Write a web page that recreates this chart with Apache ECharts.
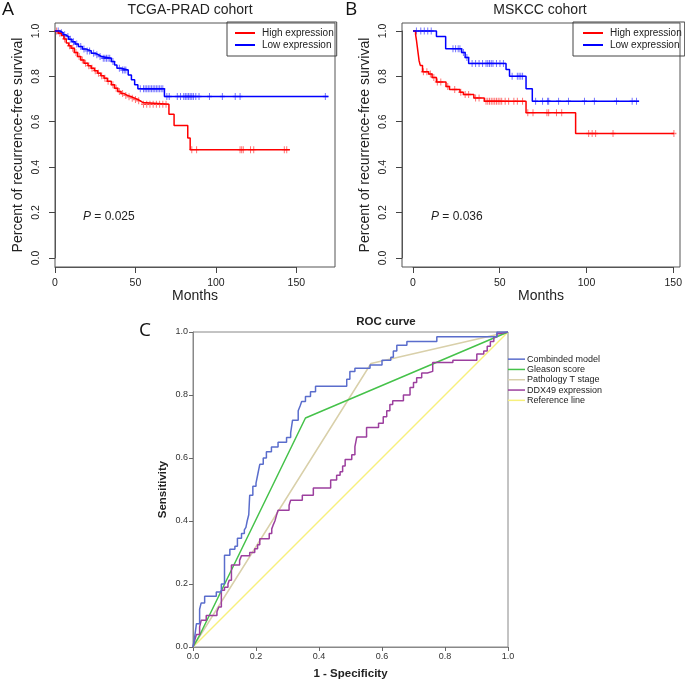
<!DOCTYPE html>
<html>
<head>
<meta charset="utf-8">
<script src="https://cdn.jsdelivr.net/npm/echarts@6/dist/echarts.min.js"></script>
<style>
  html, body { margin: 0; padding: 0; background: #fff; }
  #main { width: 685px; height: 682px; }
</style>
</head>
<body>
<div id="main"></div>
<script>
// ---- panel A : TCGA-PRAD, [months, survival] at each drop ----
const aHighSteps = [[2,0.99],[4,0.98],[5.5,0.965],[7,0.947],[8.5,0.935],[10,0.924],[12,0.905],[14,0.887],[16,0.872],
  [18,0.858],[20.5,0.847],[22.5,0.836],[24.5,0.825],[26.5,0.814],[28.5,0.803],[30.5,0.792],[32.5,0.778],[35,0.763],
  [37,0.748],[39,0.733],[41,0.724],[43,0.716],[45,0.71],[47.5,0.704],[49.5,0.698],[51.5,0.692],[53,0.685],[54.5,0.677],
  [70.8,0.633],[74,0.583],[82.5,0.528],[84,0.477]];
const aHighEnd = 146;
const aHighCensor = [1,3,6,9,11,13,15,17,19,21,23,25,27,29,31,33,36,38,40,42,44,46,48,50,52,55,57,59,61,63,65,67,69,
  85,88,115,116,117,121.5,123.5,142.5,144];
const aLowSteps = [[3,0.992],[5,0.983],[6.5,0.975],[8.5,0.963],[10.5,0.952],[12.5,0.942],[14.5,0.931],[17,0.92],
  [19.5,0.912],[22.5,0.902],[25,0.895],[27,0.887],[29,0.88],[35,0.865],[37,0.85],[38.5,0.836],[41,0.828],[45.5,0.806],
  [47.5,0.785],[49.5,0.763],[51.5,0.745],[68,0.711]];
const aLowEnd = 170;
const aLowCensor = [2,4,6,8,9.5,11.5,13.5,16,18,20,21.5,24,26,28,30,31,32,33,34,36,40,42,43,44,53,55,56,57,58,59,60,61,
  62,63,64,65,66,67,69.5,71,76,78,80,81,82,83,84,85,86,87.5,89.5,96,104,112,115,168];

// ---- panel B : MSKCC ----
const bHighSteps = [[1.5,0.985],[2,0.96],[2.5,0.93],[3,0.9],[3.5,0.87],[4.2,0.848],[5.5,0.82],[9,0.81],[11,0.795],
  [13.5,0.775],[19,0.755],[21,0.742],[27,0.73],[29,0.72],[35,0.705],[41,0.69],[65,0.64],[93.5,0.548]];
const bHighEnd = 150;
const bHighCensor = [6,8,10,12,14,16,20,24,27.5,30,32,36,38,42,43,44,45,46,47,48,49,50,51,53,55,58,60,63,66,69,77,78,
  82.5,85.5,101,103,105,115,150];
const bLowSteps = [[13.5,0.975],[18.8,0.922],[28,0.905],[30,0.883],[32,0.857],[53.5,0.83],[55.5,0.8],[65,0.745],[68.6,0.69]];
const bLowEnd = 130;
const bLowCensor = [2,4.5,6.5,8.5,10.5,23,24.5,26,27,29,31,34,36,38,40,42,43,44,45,46,48,50,52,57,60,61,62,63,70.5,74.5,
  77.4,78,83.7,89.4,98.6,104.3,117,126,128.5];

// tick label ranges (ticks every 50 months / every 0.2)
const monthTickRange = [0, 150];
const survTickRange = [0, 1];

// ---- panel C : ROC, [1 - specificity, sensitivity] ----
const rocNames = ['Combinded model', 'Gleason score', 'Pathology T stage', 'DDX49 expression', 'Reference line'];
const rocCombined = [[0,0],[0.005,0.03],[0.011,0.074],[0.021,0.12],[0.026,0.14],[0.037,0.161],[0.074,0.175],[0.09,0.2],
  [0.1,0.291],[0.117,0.31],[0.133,0.32],[0.141,0.345],[0.154,0.36],[0.163,0.372],[0.168,0.38],[0.172,0.4],[0.177,0.42],
  [0.18,0.482],[0.19,0.51],[0.2,0.52],[0.206,0.55],[0.212,0.58],[0.223,0.6],[0.233,0.62],[0.249,0.635],[0.27,0.65],
  [0.297,0.665],[0.31,0.68],[0.316,0.72],[0.334,0.75],[0.34,0.765],[0.345,0.779],[0.357,0.795],[0.373,0.81],[0.389,0.828],
  [0.488,0.85],[0.498,0.875],[0.514,0.885],[0.562,0.895],[0.6,0.91],[0.628,0.92],[0.636,0.94],[0.647,0.958],[0.679,0.97],
  [0.774,0.985],[0.965,1.0],[1,1]];
const rocGleason = [[0,0],[0.02,0.035],[0.357,0.727],[1,1]];
const rocStage = [[0,0],[0.565,0.9],[1,1]];
const rocDdx49 = [[0,0],[0.005,0.02],[0.011,0.04],[0.021,0.064],[0.026,0.085],[0.042,0.1],[0.076,0.112],[0.082,0.127],
  [0.09,0.18],[0.1,0.19],[0.111,0.2],[0.115,0.212],[0.122,0.26],[0.148,0.275],[0.154,0.29],[0.18,0.3],[0.196,0.312],
  [0.205,0.325],[0.212,0.344],[0.242,0.36],[0.25,0.375],[0.254,0.386],[0.26,0.4],[0.265,0.418],[0.27,0.434],[0.305,0.45],
  [0.31,0.466],[0.347,0.482],[0.382,0.505],[0.437,0.53],[0.456,0.545],[0.467,0.556],[0.475,0.575],[0.483,0.595],
  [0.504,0.61],[0.514,0.636],[0.52,0.667],[0.551,0.697],[0.589,0.71],[0.604,0.731],[0.615,0.75],[0.625,0.77],[0.634,0.782],
  [0.668,0.8],[0.689,0.824],[0.7,0.84],[0.71,0.855],[0.726,0.87],[0.744,0.875],[0.761,0.903],[0.825,0.91],[0.901,0.93],
  [0.923,0.94],[0.934,0.955],[0.944,0.97],[0.955,0.985],[0.965,0.995],[0.975,1],[1,1]];
const rocReference = [[0,0],[1,1]];

const RED = '#ff0000', BLUE = '#0000ff';
const FONT = 'Liberation Sans';
const PLUS = 'path://M4,0h2v4h4v2h-4v4h-2v-4h-4v-2h4z';

// KM box geometry: plot range in data units
const Y_MIN = -0.04, Y_MAX = 1.035;
const A_BOX = { left: 55, top: 23, width: 280, height: 244, xMin: 0, xMax: 174 };
const B_BOX = { left: 402, top: 23, width: 278, height: 244, xMin: -6.3, xMax: 153.5 };

function kmLine(steps, end) {
  const last = steps[steps.length - 1][1];
  return [[0, 1]].concat(steps, [[end, last]]);
}
function survAt(steps, t) {
  let s = 1;
  steps.forEach(p => { if (p[0] <= t) s = p[1]; });
  return s;
}
function censorPts(steps, times) {
  return times.map(t => [t, survAt(steps, t)]);
}

// sub-grids that cover exactly the ticked part of each box, so the ticks can use plain intervals
function xTickGrid(box) {
  const k = box.width / (box.xMax - box.xMin);
  return { left: box.left + (monthTickRange[0] - box.xMin) * k, width: (monthTickRange[1] - monthTickRange[0]) * k,
    top: box.top, height: box.height };
}
function yTickGrid(box) {
  const k = box.height / (Y_MAX - Y_MIN);
  return { left: box.left, width: box.width, top: box.top + (Y_MAX - survTickRange[1]) * k,
    height: (survTickRange[1] - survTickRange[0]) * k };
}

function kmMainX(grid, box) {
  return {
    type: 'value', gridIndex: grid, min: box.xMin, max: box.xMax,
    axisLine: { show: false, onZero: false }, axisTick: { show: false }, axisLabel: { show: false },
    splitLine: { show: false },
    name: 'Months', nameLocation: 'middle', nameGap: 22,
    nameTextStyle: { fontSize: 14, color: '#222', fontFamily: FONT }
  };
}
function kmMainY(grid) {
  return {
    type: 'value', gridIndex: grid, min: Y_MIN, max: Y_MAX,
    axisLine: { show: false, onZero: false }, axisTick: { show: false }, axisLabel: { show: false },
    splitLine: { show: false },
    name: 'Percent of recurrence-free survival', nameLocation: 'middle', nameGap: 30,
    nameTextStyle: { fontSize: 14, color: '#222', fontFamily: FONT }
  };
}
function tickX(grid) {
  return {
    type: 'value', gridIndex: grid, min: monthTickRange[0], max: monthTickRange[1], interval: 50,
    axisLine: { show: true, onZero: false, lineStyle: { color: '#555', width: 1 } },
    axisTick: { show: true, length: 6, lineStyle: { color: '#444', width: 1 } },
    axisLabel: { fontSize: 10.5, margin: 11, color: '#222', fontFamily: FONT },
    splitLine: { show: false }
  };
}
function tickY(grid) {
  return {
    type: 'value', gridIndex: grid, min: survTickRange[0], max: survTickRange[1], interval: 0.2,
    axisLine: { show: true, onZero: false, lineStyle: { color: '#555', width: 1 } },
    axisTick: { show: true, length: 6, lineStyle: { color: '#444', width: 1 } },
    axisLabel: { rotate: 90, fontSize: 10.5, margin: 13, color: '#222', fontFamily: FONT,
      formatter: v => v.toFixed(1) },
    splitLine: { show: false }
  };
}
function hiddenAxis(grid) {
  return { type: 'value', gridIndex: grid, min: 0, max: 1, show: false };
}
function kmSeries(name, color, grid, steps, end, censor) {
  return [{
    name: name, type: 'line', step: 'end', xAxisIndex: grid, yAxisIndex: grid,
    data: kmLine(steps, end), symbol: 'none', color: color,
    lineStyle: { width: 1.5, color: color }, silent: true, z: 3
  }, {
    name: name + ' censored', type: 'scatter', xAxisIndex: grid, yAxisIndex: grid,
    data: censorPts(steps, censor), symbol: PLUS, symbolSize: [5, 7],
    itemStyle: { color: color, opacity: 0.55 }, silent: true, z: 2
  }];
}
function rocAxis(name, isX) {
  return {
    type: 'value', gridIndex: 2, min: 0, max: 1, interval: 0.2,
    axisLine: { show: true, onZero: false, lineStyle: { color: '#888', width: 1 } },
    axisTick: { show: true, length: 4, lineStyle: { color: '#666' } },
    axisLabel: { fontSize: 9, color: '#333', margin: 5, fontFamily: FONT, formatter: v => v.toFixed(1) },
    splitLine: { show: false },
    name: name, nameLocation: 'middle', nameGap: isX ? 21 : 24,
    nameTextStyle: { fontSize: 11.5, fontWeight: 'bold', color: '#222', fontFamily: FONT }
  };
}
function rocLine(name, color, data, step) {
  return {
    name: name, type: 'line', xAxisIndex: 2, yAxisIndex: 2, data: data,
    step: step ? 'end' : false, symbol: 'none', color: color,
    lineStyle: { width: 1.5, color: color }, silent: true
  };
}
function kmLegend(left, padLeft) {
  return {
    data: ['High expression', 'Low expression'], orient: 'vertical', left: left, top: 22,
    padding: [5, 3, 5, padLeft], itemGap: 0, itemWidth: 20, itemHeight: 2, icon: 'rect',
    borderColor: '#444', borderWidth: 1, selectedMode: false,
    textStyle: { fontSize: 10, lineHeight: 12, color: '#222', padding: [0, 0, 0, 2] }
  };
}
function boxGrid(box) {
  return { left: box.left, top: box.top, width: box.width, height: box.height,
    show: true, borderColor: '#555', borderWidth: 1 };
}

const chart = echarts.init(document.getElementById('main'));

chart.setOption({
  animation: false,
  backgroundColor: '#fff',
  textStyle: { fontFamily: FONT },
  grid: [
    boxGrid(A_BOX),
    boxGrid(B_BOX),
    { left: 193, top: 332, width: 315, height: 315, show: true, borderColor: '#888', borderWidth: 1 },
    xTickGrid(A_BOX), yTickGrid(A_BOX), xTickGrid(B_BOX), yTickGrid(B_BOX)
  ],
  xAxis: [kmMainX(0, A_BOX), kmMainX(1, B_BOX), rocAxis('1 - Specificity', true),
    tickX(3), hiddenAxis(4), tickX(5), hiddenAxis(6)],
  yAxis: [kmMainY(0), kmMainY(1), rocAxis('Sensitivity', false),
    hiddenAxis(3), tickY(4), hiddenAxis(5), tickY(6)],
  legend: [
    kmLegend(227, 8),
    kmLegend(573, 10),
    {
      data: rocNames, orient: 'vertical', left: 508, top: 354, padding: 0,
      itemGap: 0, itemWidth: 17, itemHeight: 1.5, icon: 'rect', itemStyle: { borderWidth: 0 },
      selectedMode: false,
      textStyle: { fontSize: 9, lineHeight: 10.3, color: '#222', padding: [0, 0, 0, -3] }
    }
  ],
  graphic: [
    { type: 'text', x: 2, y: 0, style: { text: 'A', font: '19px "Open Sans"', fill: '#111' } },
    { type: 'text', x: 345, y: 0, style: { text: 'B', font: '19px "Open Sans"', fill: '#111' } },
    { type: 'text', x: 139, y: 321, style: { text: 'C', font: '19px "Open Sans"', fill: '#111' } },
    { type: 'text', x: 190, y: 10, style: { text: 'TCGA-PRAD cohort', font: '14px "Liberation Sans"', fill: '#222',
        align: 'center', verticalAlign: 'middle', textAlign: 'center', textVerticalAlign: 'middle' } },
    { type: 'text', x: 540, y: 10, style: { text: 'MSKCC cohort', font: '14px "Liberation Sans"', fill: '#222',
        align: 'center', verticalAlign: 'middle', textAlign: 'center', textVerticalAlign: 'middle' } },
    { type: 'text', x: 386, y: 322, style: { text: 'ROC curve', font: 'bold 11.5px "Liberation Sans"', fill: '#222',
        align: 'center', verticalAlign: 'middle', textAlign: 'center', textVerticalAlign: 'middle' } },
    { type: 'text', x: 83, y: 217, style: { text: '{i|P} = 0.025', font: '12px "Liberation Sans"', fill: '#222',
        verticalAlign: 'middle', textVerticalAlign: 'middle',
        rich: { i: { fontStyle: 'italic', fontSize: 12, fontFamily: FONT } } } },
    { type: 'text', x: 431, y: 217, style: { text: '{i|P} = 0.036', font: '12px "Liberation Sans"', fill: '#222',
        verticalAlign: 'middle', textVerticalAlign: 'middle',
        rich: { i: { fontStyle: 'italic', fontSize: 12, fontFamily: FONT } } } }
  ],
  series: [].concat(
    kmSeries('High expression', RED, 0, aHighSteps, aHighEnd, aHighCensor),
    kmSeries('Low expression', BLUE, 0, aLowSteps, aLowEnd, aLowCensor),
    kmSeries('High expression', RED, 1, bHighSteps, bHighEnd, bHighCensor),
    kmSeries('Low expression', BLUE, 1, bLowSteps, bLowEnd, bLowCensor),
    [
      rocLine(rocNames[4], '#f7f07c', rocReference, false),
      rocLine(rocNames[2], '#d9d0aa', rocStage, false),
      rocLine(rocNames[1], '#45c24a', rocGleason, false),
      rocLine(rocNames[3], '#9c3f9e', rocDdx49, true),
      rocLine(rocNames[0], '#5a6dcc', rocCombined, true)
    ]
  )
});
</script>
</body>
</html>
